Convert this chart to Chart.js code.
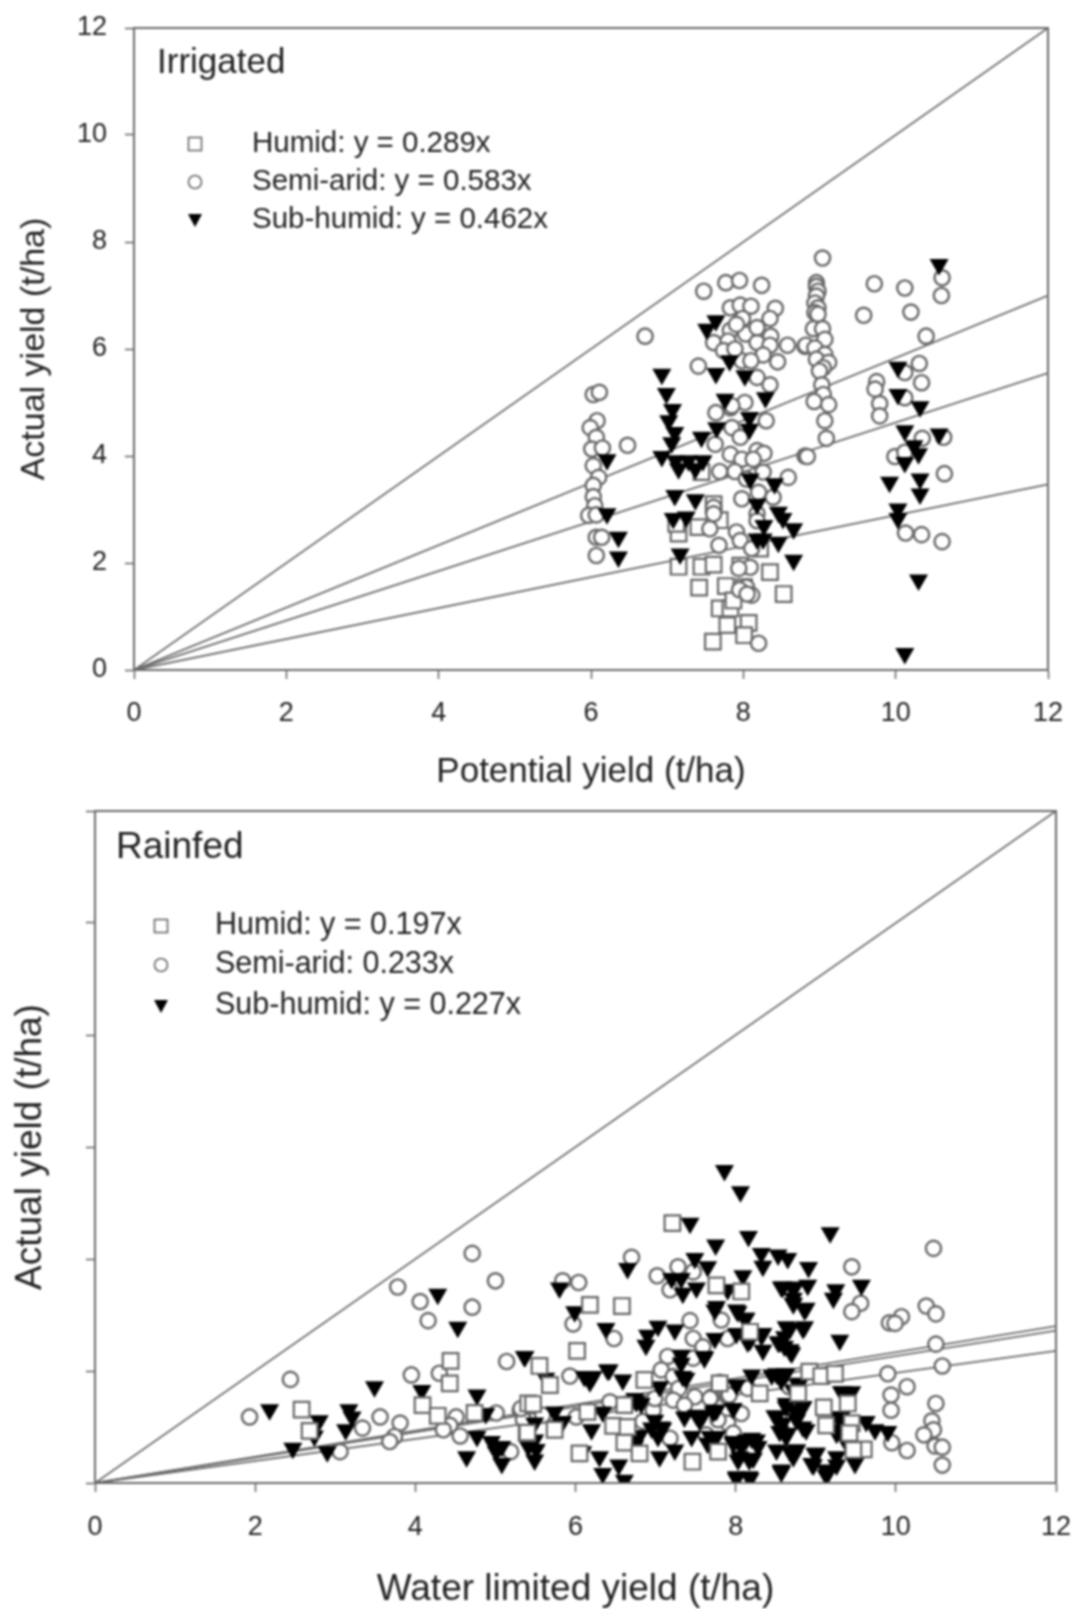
<!DOCTYPE html>
<html>
<head>
<meta charset="utf-8">
<title>Actual yield vs potential and water limited yield</title>
<script src="https://cdn.jsdelivr.net/npm/chart.js@4/dist/chart.umd.min.js"></script>
<style>
    html, body { margin: 0; padding: 0; background: #fff; }
    #page { position: relative; width: 1076px; height: 1609px; overflow: hidden; }
    canvas { position: absolute; left: 0; filter: blur(0.8px); }
    #chartIrrigated { top: 0; }
    #chartRainfed { top: 790px; }
</style>
</head>
<body>
<div id="page">
    <canvas id="chartIrrigated" width="1076" height="790"></canvas>
    <canvas id="chartRainfed" width="1076" height="819"></canvas>
</div>
<script>
// tick values shared by both axes
const tickValues = [0, 2, 4, 6, 8, 10, 12];

// reference lines: [0,0] to [12, value at 12]
const lineX = [0, 12];
const irrigatedLineEnds = [12, 7.0, 5.55, 3.47];
const rainfedLineEnds = [12, 2.8, 2.72, 2.36];

const irrigatedLegend = ['Humid: y = 0.289x', 'Semi-arid: y = 0.583x', 'Sub-humid: y = 0.462x'];
const rainfedLegend = ['Humid: y = 0.197x', 'Semi-arid: 0.233x', 'Sub-humid: y = 0.227x'];

// Irrigated [potential, actual]
const irrigatedHumid = [
    [7.15,1.93],[7.15,2.55],[7.45,1.93],[7.61,1.97],[7.42,1.54],[7.77,1.57],[8.01,1.55],[8.35,1.83],
    [8.53,1.42],[7.69,1.15],[7.83,1.15],[7.79,0.84],[8.07,0.88],[8.01,0.65],[7.6,0.53],[7.41,2.67],
    [7.61,3.1],[7.96,1.95],[7.87,1.3],[8.22,2.27],[7.69,2.8],[7.45,3.7],[7.12,2.73]
];
const irrigatedSemiArid = [
    [7.48,7.08],[7.77,7.24],[7.95,7.28],[8.24,7.19],[6.71,6.24],[6.03,5.15],[6.11,5.19],[6.08,4.66],
    [5.99,4.53],[6.07,4.35],[6.01,4.13],[6.15,4.15],[6.48,4.2],[6.03,3.82],[6.1,3.6],[6.03,3.45],
    [6.03,3.24],[6.05,3.07],[5.97,2.89],[6.07,2.9],[6.07,2.48],[6.14,2.48],[6.07,2.14],
    [7.83,6.77],[7.96,6.82],[8.1,6.8],[8.42,6.76],[8.35,6.57],[7.99,6.57],[7.83,6.35],[8.03,6.28],
    [8.36,6.24],[7.61,6.12],[7.8,6.15],[8.18,6.12],[8.35,6.07],[8.58,6.07],[8.81,6.05],[8.26,5.89],
    [7.98,5.78],[8.1,5.78],[8.45,5.76],[7.41,5.68],[8.18,5.47],[8.35,5.33],[8.02,5.0],[7.83,4.9],
    [7.64,4.81],[8.3,4.66],[7.85,4.53],[7.96,4.35],[7.63,4.22],[8.18,4.1],[8.27,4.05],[7.83,4.03],
    [7.98,3.94],[8.13,3.94],[7.69,3.71],[7.89,3.71],[8.26,3.7],[8.59,3.6],[8.81,4.0],[8.04,3.57],
    [7.98,3.2],[8.2,3.32],[8.39,3.23],[8.18,2.92],[7.61,3.04],[7.56,2.64],[7.91,2.58],[7.68,2.33],
    [7.96,2.42],[8.11,2.27],[8.2,0.5],[8.09,1.92],[8.04,1.55],[8.11,1.4],
    [7.91,6.46],[8.18,6.4],[7.74,5.97],[7.89,6.0],[7.85,4.94],[7.61,2.92],[8.18,2.79],[7.94,1.9],
    [7.95,1.5],[8.05,1.42],
    [9.04,7.7],[8.96,7.24],[8.96,7.17],[8.98,7.08],[8.96,6.99],[8.94,6.86],[8.98,6.77],[8.94,6.68],
    [8.98,6.65],[8.92,6.38],[9.04,6.38],[9.07,6.18],[8.82,6.07],[8.94,6.02],[9.07,5.9],[8.96,5.81],
    [9.12,5.75],[9.05,5.65],[9.0,5.59],[9.03,5.33],[9.05,5.15],[8.93,5.02],[9.12,4.96],[9.07,4.66],
    [9.09,4.33],[8.84,3.99],[9.72,7.22],[10.12,7.14],[10.61,7.33],[10.6,7.0],[9.58,6.63],[10.2,6.69],
    [10.4,6.24],[10.31,5.73],[10.12,5.56],[10.34,5.37],[9.75,5.39],[9.73,5.25],[9.79,4.98],[9.79,4.75],
    [10.12,5.09],[10.35,4.33],[10.63,4.35],[9.99,3.99],[10.12,4.07],[10.64,3.67],[10.13,2.56],
    [10.34,2.53],[10.61,2.4]
];
const irrigatedSubHumid = [
    [6.93,5.53],[6.99,5.17],[7.07,4.87],[7.02,4.66],[7.1,4.44],[7.06,4.25],[6.93,3.99],[7.11,3.91],
    [7.15,3.76],[7.28,3.91],[7.37,3.76],[7.47,3.91],[7.45,4.35],[7.1,3.26],[7.37,3.18],[7.08,2.83],
    [7.25,2.86],[7.17,2.17],[6.21,3.93],[6.21,2.92],[6.36,2.48],[6.36,2.11],
    [7.64,6.53],[7.52,6.37],[7.82,5.78],[7.64,5.54],[8.02,5.5],[7.76,5.06],[8.29,5.09],[7.65,4.53],
    [8.08,4.72],[8.08,4.5],[8.09,3.57],[8.41,3.48],[8.18,3.1],[8.46,2.95],[8.52,2.83],[8.27,2.7],
    [8.66,2.64],[8.18,2.45],[8.26,2.45],[8.46,2.39],[8.66,2.05],
    [10.57,7.58],[10.03,5.66],[10.03,5.15],[10.32,4.92],[10.12,4.47],[10.57,4.41],[10.24,4.19],
    [10.3,4.04],[10.12,3.88],[9.92,3.51],[10.32,3.57],[10.32,3.29],[10.03,3.01],[10.03,2.83],
    [10.3,1.68],[10.12,0.31]
];

// Rainfed [water limited, actual]
const rainfedHumid = [
    [4.44,2.18],[4.43,1.78],[4.09,1.39],[2.58,1.31],[4.28,1.2],[2.68,0.93],[4.74,1.25],[5.39,0.89],[5.41,1.42],
    [7.21,4.64],[6.18,3.18],[6.58,3.16],[6.02,2.36],[5.55,2.09],[5.68,1.75],[5.47,1.41],[6.86,1.84],
    [6.47,1.02],[6.65,1.0],[6.15,1.27],[6.61,0.72],[6.8,0.53],[6.05,0.53],[7.46,0.38],[7.76,3.53],
    [8.07,3.42],[7.78,0.56],[5.4,0.9],[5.74,0.95],[8.3,1.6],[6.61,1.39],[7.8,1.78],[8.18,2.7],
    [8.92,1.99],[9.07,1.91],[9.24,1.95],[9.1,1.35],[9.13,1.03],[9.4,1.42],[9.45,1.07],[9.42,0.89],
    [9.6,0.6],[9.47,0.59],[8.78,1.6]
];
const rainfedSemiArid = [
    [4.71,4.1],[5.0,3.61],[3.78,3.5],[4.06,3.24],[4.71,3.14],[4.16,2.9],[5.14,2.17],[2.44,1.85],
    [3.95,1.93],[4.3,1.96],[1.93,1.18],[3.56,1.18],[3.34,0.98],[3.81,1.07],[3.06,0.56],[3.74,0.83],
    [3.68,0.74],[4.51,1.18],[4.43,1.03],[4.56,0.84],[4.35,0.95],[5.19,0.56],[5.01,1.25],[5.31,1.3],[5.35,1.13],
    [6.7,4.03],[5.84,3.61],[6.04,3.58],[7.02,3.7],[7.28,3.86],[7.18,3.45],[7.47,3.77],[5.97,2.84],
    [6.48,2.58],[7.43,2.9],[7.47,2.58],[7.82,2.91],[7.59,2.43],[7.9,2.58],[7.15,2.26],[7.47,2.23],
    [7.07,2.02],[7.22,1.9],[5.93,1.91],[7.29,1.69],[7.8,1.8],[7.49,1.54],[7.22,1.48],[6.43,1.45],
    [6.61,1.39],[6.01,1.18],[5.59,1.21],[6.84,1.1],[7.18,0.8],[7.9,1.54],[8.07,1.24],[7.9,1.07],
    [7.63,0.86],[5.32,1.33],[7.7,1.54],[7.92,1.57],[8.17,2.7],[8.15,1.69],[7.78,1.13],[7.97,0.89],
    [8.67,1.72],[8.7,1.36],[7.36,1.39],[6.97,1.3],[6.99,1.51],[7.68,1.51],
    [10.47,4.19],[9.45,3.86],[9.56,3.21],[9.45,3.06],[10.38,3.16],[10.5,3.02],[10.07,2.97],[9.92,2.86],
    [9.99,2.85],[10.5,2.48],[10.58,2.09],[9.9,1.95],[10.14,1.72],[9.94,1.57],[9.94,1.3],[10.5,1.42],
    [10.45,1.11],[10.47,0.95],[10.35,0.86],[10.49,0.66],[10.58,0.64],[10.58,0.32],[9.95,0.72],[10.14,0.58]
];
const rainfedSubHumid = [
    [4.28,3.37],[4.53,2.78],[5.37,2.26],[3.49,1.72],[4.08,1.65],[4.77,1.57],[2.18,1.31],[2.8,1.11],
    [3.17,1.31],[3.21,1.18],[3.13,0.95],[2.74,0.84],[2.47,0.62],[2.9,0.56],[4.88,1.24],[4.77,0.83],
    [4.64,0.47],[4.95,0.74],[5.08,0.65],[5.08,0.35],[5.41,0.65],[5.01,0.56],
    [7.86,5.58],[8.06,5.2],[7.43,4.64],[8.16,4.4],[7.75,4.25],[8.32,4.1],[7.49,4.01],[8.53,4.07],
    [8.65,4.01],[7.65,3.86],[8.34,3.87],[6.65,3.83],[5.8,3.48],[8.09,3.7],[7.2,3.65],[7.32,3.65],
    [7.34,3.39],[7.51,3.48],[7.9,3.45],[8.59,3.5],[8.74,3.5],[8.72,3.3],[5.99,3.06],[7.76,3.15],
    [8.01,3.09],[8.13,2.94],[6.38,2.76],[7.03,2.8],[6.9,2.64],[6.88,2.46],[7.24,2.73],[7.74,2.58],
    [8.01,2.67],[8.18,2.55],[8.34,2.67],[8.34,2.37],[8.55,2.52],[8.68,2.76],[8.68,2.35],[7.32,2.28],
    [7.61,2.23],[5.36,2.26],[5.63,1.87],[6.15,1.9],[6.4,2.02],[6.59,1.84],[7.34,1.9],[7.05,1.72],
    [8.01,1.75],[8.2,1.93],[8.51,1.95],[8.63,1.95],[6.76,1.45],[5.74,1.27],[5.84,1.1],[5.49,1.07],
    [6.34,1.27],[6.2,0.95],[6.99,1.12],[7.07,1.0],[6.76,0.83],[6.74,0.66],[7.36,1.18],[7.55,1.12],
    [7.72,1.27],[7.45,0.83],[7.97,1.33],[7.76,0.83],[7.97,0.71],[8.13,0.77],[8.26,0.77],[8.05,0.47],
    [8.22,0.44],[8.01,0.08],[8.18,0.08],[8.57,0.2],[8.51,1.18],[8.63,1.36],[8.63,0.83],[8.72,0.47],
    [5.49,0.77],[5.51,0.6],[5.49,0.41],[6.09,0.56],[6.3,0.47],[6.34,0.17],[6.54,0.32],[6.61,0.05],
    [7.05,0.47],[7.24,0.59],[8.72,1.66],[8.76,1.3],
    [7.74,3.09],[8.03,3.06],[8.11,2.94],[8.72,3.21],[8.88,3.12],[8.65,2.76],[8.84,2.76],[8.15,2.52],
    [8.32,2.64],[8.53,2.52],[8.7,2.32],[8.61,2.44],[8.45,1.93],[8.57,1.84],[8.78,1.75],[8.65,1.42],
    [8.84,1.36],[8.76,1.24],[7.74,1.3],[7.59,1.2],[8.49,1.2],[8.59,1.07],[8.76,1.13],[8.88,0.95],
    [8.55,0.92],[7.68,0.83],[7.97,0.74],[8.2,0.8],[8.07,0.65],[8.28,0.65],[8.51,0.59],[8.76,0.59],
    [8.99,0.53],[8.17,0.41],[8.03,0.41],[8.95,0.35],[8.57,0.2],[8.17,0.11],[8.01,0.11],[9.13,0.23],
    [6.11,1.9],[6.22,1.9],[6.18,1.81],[6.42,2.02],[7.32,2.14],[7.61,2.26],[7.38,1.87],[6.74,1.51],
    [6.82,1.42],[6.95,0.98],[7.09,0.98],[7.03,0.83],[6.8,0.85],[7.51,1.21],[7.65,0.71],[7.76,1.3],
    [9.18,4.47],[8.91,3.85],[9.57,3.53],[9.25,3.45],[9.22,3.3],[8.9,3.53],[8.72,3.45],[8.57,3.5],
    [8.72,3.2],[8.86,3.09],[9.3,2.55],[8.86,2.79],[8.63,2.79],[8.68,2.38],[8.61,2.61],[9.32,1.63],
    [9.45,1.63],[9.63,1.1],[9.74,0.95],[9.9,0.92],[9.32,1.18],[8.8,1.78],[8.61,1.95],[8.63,1.42],
    [8.84,1.36],[8.84,1.0],[8.65,0.89],[9.26,0.89],[9.4,0.68],[9.49,0.35],[8.97,0.32],[9.15,0.17],
    [9.26,0.32],[8.57,0.23],[8.68,0.56],[9.26,0.47],[8.76,0.59],[9.01,0.53],[9.28,1.18],[9.26,0.95],
    [9.13,0.14],[9.34,1.63],[9.4,0.71]
];

const lineColor = '#6a6a6a';
const markerColor = '#666';
const textColor = '#222';
const fontFamily = '"Liberation Sans", Arial, sans-serif';

function toPoints(pairs) {
    return pairs.map(p => ({ x: p[0], y: p[1] }));
}

// 散布図のデータセット
function markerDatasets(humid, semiArid, subHumid, orders) {
    return [
        {
            label: 'Humid', data: toPoints(humid), order: orders[0],
            pointStyle: 'rect', pointRadius: 11, pointBorderWidth: 2.2,
            pointBorderColor: markerColor, pointBackgroundColor: '#fff'
        },
        {
            label: 'Semi-arid', data: toPoints(semiArid), order: orders[1],
            pointStyle: 'circle', pointRadius: 7.6, pointBorderWidth: 2.4,
            pointBorderColor: markerColor, pointBackgroundColor: '#fff'
        },
        {
            label: 'Sub-humid', data: toPoints(subHumid), order: orders[2],
            pointStyle: 'triangle', pointRotation: 180, pointRadius: 11, pointBorderWidth: 0,
            pointBorderColor: '#000', pointBackgroundColor: '#000'
        }
    ];
}

function lineDatasets(ends) {
    return ends.map((end, i) => ({
        label: 'line ' + i,
        data: [{ x: lineX[0], y: 0 }, { x: lineX[1], y: end }],
        showLine: true, pointRadius: 0, borderColor: lineColor, borderWidth: 1.8, order: 10
    }));
}

// 枠線と凡例を描くプラグイン
function panelPlugin(opt) {
    return {
        id: 'panel',
        afterDatasetsDraw(chart) {
            const ctx = chart.ctx;
            const area = chart.chartArea;
            ctx.save();
            ctx.strokeStyle = lineColor;
            ctx.lineWidth = 2;
            ctx.strokeRect(area.left, area.top, area.right - area.left, area.bottom - area.top);

            ctx.fillStyle = textColor;
            ctx.textBaseline = 'middle';
            ctx.textAlign = 'left';
            ctx.font = opt.titleSize + 'px ' + fontFamily;
            ctx.fillText(opt.title, opt.titleX, opt.titleY);

            ctx.font = opt.legendSize + 'px ' + fontFamily;
            opt.legend.forEach((text, i) => {
                const y = opt.legendY[i];
                ctx.fillStyle = textColor;
                ctx.fillText(text, opt.textX, y);
                drawLegendMarker(ctx, i, opt.markerX, y);
            });
            ctx.restore();
        }
    };
}

function drawLegendMarker(ctx, kind, x, y) {
    ctx.save();
    ctx.strokeStyle = markerColor;
    ctx.lineWidth = 1.6;
    ctx.fillStyle = '#000';
    if (kind === 0) {
        ctx.strokeRect(x - 6.5, y - 6.5, 13, 13);
    } else if (kind === 1) {
        ctx.beginPath();
        ctx.arc(x, y, 6.5, 0, Math.PI * 2);
        ctx.stroke();
    } else {
        ctx.beginPath();
        ctx.moveTo(x - 7, y - 6);
        ctx.lineTo(x + 7, y - 6);
        ctx.lineTo(x, y + 7);
        ctx.closePath();
        ctx.fill();
    }
    ctx.restore();
}

function axisOptions(titleText, titleSize, titlePadding, fixedSize, isY, showLabels, tickPadding) {
    return {
        type: 'linear',
        min: 0,
        max: 12,
        afterBuildTicks: scale => { scale.ticks = tickValues.map(v => ({ value: v })); },
        afterFit: scale => {
            if (isY) scale.width = fixedSize; else scale.height = fixedSize;
            // 目盛りラベル分の余白を無効化してプロット領域を固定
            scale.paddingLeft = 0;
            scale.paddingRight = 0;
            scale.paddingTop = 0;
            scale.paddingBottom = 0;
        },
        border: { color: lineColor, width: 2 },
        grid: { drawOnChartArea: false, drawTicks: true, tickLength: 9, tickColor: lineColor, tickWidth: 1.6 },
        ticks: {
            color: textColor,
            padding: tickPadding,
            autoSkip: false,
            maxRotation: 0,
            font: { family: fontFamily, size: 27 },
            callback: value => (showLabels ? String(value) : '')
        },
        title: {
            display: true,
            text: titleText,
            color: textColor,
            padding: titlePadding,
            font: { family: fontFamily, size: titleSize, lineHeight: 1 }
        }
    };
}

function baseOptions(padding, xAxis, yAxis) {
    return {
        responsive: false,
        animation: false,
        devicePixelRatio: 1,
        layout: { padding: padding },
        plugins: { legend: { display: false }, tooltip: { enabled: false }, title: { display: false } },
        scales: { x: xAxis, y: yAxis }
    };
}

new Chart(document.getElementById('chartIrrigated'), {
    type: 'scatter',
    data: {
        datasets: markerDatasets(irrigatedHumid, irrigatedSemiArid, irrigatedSubHumid, [3, 2, 1])
            .concat(lineDatasets(irrigatedLineEnds))
    },
    options: baseOptions(
        { top: 28, right: 28, left: 0, bottom: 0 },
        axisOptions('Potential yield (t/ha)', 35, { top: 0, bottom: 0 }, 120, false, true, 18),
        axisOptions('Actual yield (t/ha)', 34, { top: 18, bottom: 0 }, 134, true, true, 18)
    ),
    plugins: [panelPlugin({
        title: 'Irrigated', titleX: 157, titleY: 63, titleSize: 35,
        legend: irrigatedLegend, legendY: [144, 182, 220], legendSize: 29.5, markerX: 195, textX: 252
    })]
});

new Chart(document.getElementById('chartRainfed'), {
    type: 'scatter',
    data: {
        datasets: markerDatasets(rainfedHumid, rainfedSemiArid, rainfedSubHumid, [1, 3, 2])
            .concat(lineDatasets(rainfedLineEnds))
    },
    options: baseOptions(
        { top: 21, right: 20, left: 0, bottom: 0 },
        axisOptions('Water limited yield (t/ha)', 37, { top: 0, bottom: 1 }, 126, false, true, 19),
        axisOptions('Actual yield (t/ha)', 37, { top: 12, bottom: 0 }, 95, true, false, 18)
    ),
    plugins: [panelPlugin({
        title: 'Rainfed', titleX: 116, titleY: 58, titleSize: 37,
        legend: rainfedLegend, legendY: [136, 175, 216], legendSize: 30.5, markerX: 161, textX: 215
    })]
});
</script>
</body>
</html>
